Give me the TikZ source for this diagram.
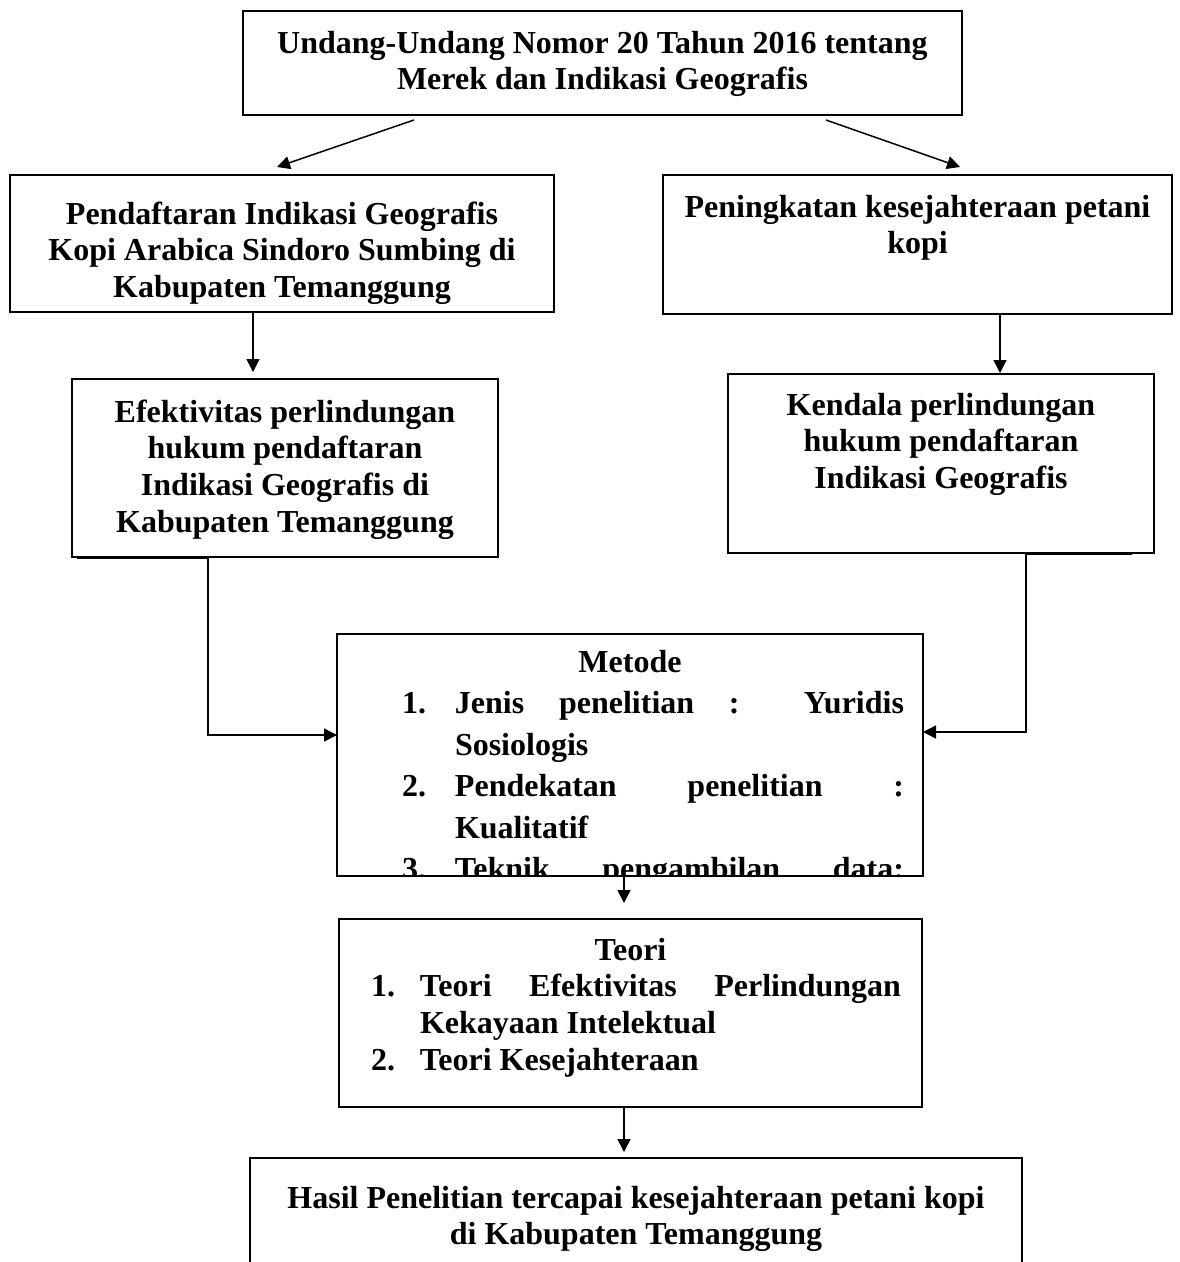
\documentclass[tikz,border=0pt]{standalone}
\usepackage{fontspec}
\setmainfont{Liberation Serif}
\usetikzlibrary{arrows.meta,calc}
\tikzstyle{kotak}=[draw,line width=1.7pt,anchor=north west,inner sep=0pt,outer sep=0pt]
\tikzstyle{teks}=[anchor=north west,inner sep=0pt,outer sep=0pt]
\tikzstyle{panah}=[-{Triangle[length=13pt,width=13pt]},line width=1.5pt]
\newcommand{\isi}[4]{\parbox[t][#2pt][t]{#1pt}{\fontsize{32}{36.8}\selectfont\bfseries\centering\rule{0pt}{#3pt}#4}}
\newcommand{\nomor}[2]{\noindent\hangindent=#1pt\hangafter=1\makebox[#1pt][l]{#2}}
\tolerance=10000
\hbadness=10000
\vbadness=10000
\hyphenpenalty=10000

\begin{document}
\begin{tikzpicture}[x=1pt,y=-1pt]
            \useasboundingbox (0,0) rectangle (1179,1262);
            \node[kotak] (uu) at (243, 11)
                {\isi{719}{104}{42}{Undang-Undang Nomor 20 Tahun 2016 tentang\\Merek dan Indikasi Geografis}}
            ;
            \node[kotak] (daftar) at (10, 175)
                {\isi{544}{137}{49}{Pendaftaran Indikasi Geografis\\Kopi Arabica Sindoro Sumbing di\\Kabupaten Temanggung}}
            ;
            \node[kotak] (sejahtera) at (663, 175)
                {\isi{509}{139}{42}{Peningkatan kesejahteraan petani\\kopi}}
            ;
            \node[kotak] (efek) at (72, 379)
                {\isi{426}{178}{43}{Efektivitas perlindungan\\hukum pendaftaran\\Indikasi Geografis di\\Kabupaten Temanggung}}
            ;
            \node[kotak] (kendala) at (728, 374)
                {\isi{426}{179}{41}{Kendala perlindungan\\hukum pendaftaran\\Indikasi Geografis}}
            ;
            \begin{scope}
                \clip (337, 634) rectangle (923, 876);
                \node[teks] (metodeisi) at (337, 634)
                    {\parbox[t][242pt][t]{586pt}{\fontsize{32}{41.5}\selectfont\bfseries
                    {\centering\rule{0pt}{38pt}Metode\par}
                    \leftskip=65pt \rightskip=19pt \parfillskip=0pt plus 1fil
                    \nomor{53}{1.}Jenis penelitian : Yuridis\linebreak Sosiologis\par
                    \nomor{53}{2.}Pendekatan penelitian :\linebreak Kualitatif\par
                    {\parfillskip=0pt \nomor{53}{3.}Teknik pengambilan data:\par}}}
                ;
            \end{scope}
            \node[kotak, minimum width=586pt, minimum height=242pt] (metode) at (337, 634) {}
            ;
            \node[kotak] (teori) at (339, 919)
                {\parbox[t][188pt][t]{583pt}{\fontsize{32}{36.8}\selectfont\bfseries
                {\centering\rule{0pt}{41pt}Teori\par}
                \leftskip=32pt \rightskip=21pt \parfillskip=0pt plus 1fil
                \nomor{49}{1.}Teori Efektivitas Perlindungan\linebreak Kekayaan Intelektual\par
                \nomor{49}{2.}Teori Kesejahteraan\par}}
            ;
            \node[kotak] (hasil) at (250, 1158)
                {\isi{772}{120}{50}{Hasil Penelitian tercapai kesejahteraan petani kopi\\di Kabupaten Temanggung}}
            ;
            \draw[panah] ($(uu.south west)+(171,5)$) -- ($(daftar.north west)+(267,-8)$);
            \draw[panah] ($(uu.south west)+(583,5)$) -- ($(sejahtera.north west)+(297,-8)$);
            \draw[panah] ($(daftar.south west)+(243,0)$) -- ($(efek.north west)+(181,-7)$);
            \draw[panah] ($(sejahtera.south west)+(337,0)$) -- ($(kendala.north west)+(272,-1)$);
            \draw[panah] ($(efek.south west)+(5,1.5)$) -- ++(131,0) |- ($(metode.north west)+(0,101)$);
            \draw[panah] ($(kendala.south west)+(404,1.5)$) -- ++(-106,0) |- ($(metode.north east)+(0,98)$);
            \draw[panah] ($(metode.south west)+(287,0)$) -- ($(teori.north west)+(285,-16)$);
            \draw[panah] ($(teori.south west)+(285,0)$) -- ($(hasil.north west)+(374,-6)$);
        \end{tikzpicture}
\end{document}
